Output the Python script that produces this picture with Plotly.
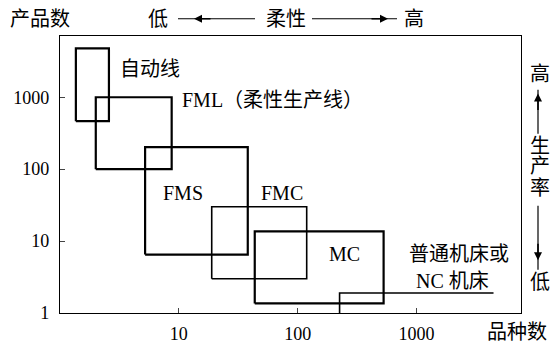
import plotly.graph_objects as go
import numpy as np

# 品种数 (x) and 产品数 (y) ranges of each manufacturing system
systems = ["自动线", "FML", "FMS", "FMC", "MC", "普通机床或NC机床"]
var_lo = [1.36, 2.0, 5.2, 18.9, 43.5, 225]
var_hi = [2.58, 8.7, 38, 119, 528, 4440]
qty_lo = [464, 100, 6.5, 3.0, 1.36, 1]
qty_hi = [4790, 1000, 203, 30, 13.6, 1.9]
widths = [2.2, 2.2, 2.2, 1.6, 2.2, 1.6]

x_ticks = [10, 100, 1000]
y_ticks = [1, 10, 100, 1000]

FONT = "Liberation Serif, Noto Sans CJK SC"

fig = go.Figure()
for name, x0, x1, y0, y1, w in zip(systems, var_lo, var_hi, qty_lo, qty_hi, widths):
    if name.startswith("普通"):
        # open on the right, sits on the axis
        xs, ys = [x0, x0, x1], [y0, y1, y1]
    else:
        xs, ys = [x0, x1, x1, x0, x0], [y0, y0, y1, y1, y0]
    fig.add_trace(go.Scatter(x=xs, y=ys, mode="lines", name=name,
                             line=dict(color="black", width=w), hoverinfo="skip"))

L, R, T, B = 60, 521, 36, 325
def px(x, y):
    return (x - L) / (R - L), (B - y) / (B - T)

def label(text, x, y, size=20, xanchor="center"):
    xp, yp = px(x, y)
    fig.add_annotation(text=text, x=xp, y=yp, xref="paper", yref="paper",
                       showarrow=False, xanchor=xanchor, yanchor="middle",
                       font=dict(family=FONT, size=size, color="black"))

def seg(x0, y0, x1, y1, w=1.2):
    a, b = px(x0, y0)
    c, d = px(x1, y1)
    fig.add_shape(type="line", x0=a, y0=b, x1=c, y1=d, xref="paper", yref="paper",
                  line=dict(color="black", width=w))

def arrow(hx, hy, tx, ty):
    a, b = px(hx, hy)
    fig.add_annotation(x=a, y=b, ax=tx - hx, ay=ty - hy, xref="paper", yref="paper",
                       axref="pixel", ayref="pixel", text="", showarrow=True,
                       arrowhead=2, arrowsize=1, arrowwidth=1.6, arrowcolor="black")

# box labels
label("自动线", 118, 70, xanchor="left")
label("FML（柔性生产线）", 180, 103, xanchor="left")
label("FMS", 183, 200)
label("FMC", 282, 200)
label("MC", 344, 263)
label("普通机床或", 459, 263)
label("NC 机床", 452, 292)

# axis titles
label("产品数", 40, 18)
label("品种数", 517, 345)

# flexibility scale on top
label("低", 158, 18)
label("柔性", 286, 18)
label("高", 414, 18)
seg(178, 18, 255, 18)
seg(312, 18, 397, 18)
arrow(194, 18, 212, 18)
arrow(388, 18, 370, 18)

# productivity scale on the right
label("高", 540, 76)
label("生", 540, 151)
label("产", 540, 172)
label("率", 540, 195)
label("低", 540, 293)
seg(538, 92, 538, 138)
seg(538, 213, 538, 280)
arrow(538, 96, 538, 114)
arrow(538, 270, 538, 252)

fig.update_xaxes(type="log", range=[0, np.log10(7560)], tickvals=x_ticks,
                 ticktext=[str(v) for v in x_ticks], ticks="inside", ticklen=5,
                 tickwidth=1.2, showline=True, linecolor="black", linewidth=1.4,
                 mirror=True, showgrid=False, zeroline=False, ticklabelstandoff=4,
                 tickfont=dict(family=FONT, size=18, color="black"))
fig.update_yaxes(type="log", range=[0, np.log10(7100)], tickvals=y_ticks,
                 ticktext=[str(v) for v in y_ticks], ticks="inside", ticklen=5,
                 tickwidth=1.2, showline=True, linecolor="black", linewidth=1.4,
                 mirror=True, showgrid=False, zeroline=False, ticklabelstandoff=6,
                 tickfont=dict(family=FONT, size=18, color="black"))

fig.update_layout(width=550, height=356, margin=dict(l=L, r=550 - R, t=T, b=356 - B),
                  plot_bgcolor="white", paper_bgcolor="white", showlegend=False)

# the page's default body margin would push the figure 8px off
fig.write_html("out.html", config={"displayModeBar": False},
               post_script="document.body.style.margin='0';")
